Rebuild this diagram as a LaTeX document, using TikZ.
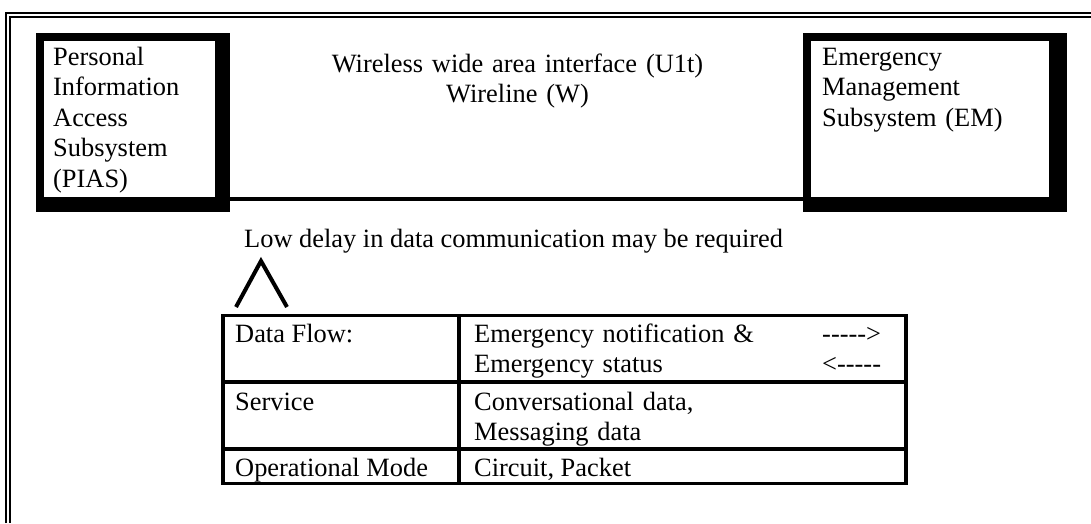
\documentclass[tikz,border=0pt]{standalone}
\usepackage{fontspec}
\setmainfont{Liberation Serif}
\begin{document}
\begin{tikzpicture}[x=1pt,y=-1pt,
  font=\fontsize{26.4}{30.5}\selectfont,
  txt/.style={inner sep=0pt, anchor=base west, align=left},
  frameline/.style={line width=2pt},
  rule/.style={line width=3.5pt},
  inner/.style={fill=white, inner sep=0pt, anchor=north west},
]
\useasboundingbox (0,0) rectangle (1091,523);
% outer double frame (cut off at right and bottom)
\draw[frameline] (6,523) -- (6,13) -- (1091,13);
\draw[frameline] (10,523) -- (10,17) -- (1091,17);

% subsystem boxes: thick black frame, white inside
\fill (36,33) rectangle (230,212);
\node[inner, minimum width=171pt, minimum height=156pt] (pias) at (44,41) {};
\fill (803,33) rectangle (1067,212);
\node[inner, minimum width=238pt, minimum height=156pt] (em) at (811,41) {};

\node[txt, text width=160pt] (piast) at (53,65) {Personal\\Information\\Access\\Subsystem\\(PIAS)};
\node[txt, text width=230pt] (emt) at (822,65) {Emergency\\Management\\Subsystem (EM)};

% interface line
\draw[rule] (pias.east |- 0,199) -- (em.west |- 0,199);

\node[inner sep=0pt, anchor=base, align=center, text width=420pt] (iface) at (517.5,72)
  {Wireless wide area interface (U1t)\\Wireline (W)};

\node[txt] (delay) at (244,247) {Low delay in data communication may be required};

% caret
\draw[line width=4pt] (236,307) -- (261,261) -- (287,307);

% table
\draw[rule] (223,315.5) rectangle (906,483.5);
\draw[rule] (223,382) -- (906,382);
\draw[rule] (223,449) -- (906,449);
\draw[rule] (459,315.5) -- (459,483.5);

\node[txt] (c11) at (235,342) {Data Flow:};
\node[txt, text width=330pt] (c12) at (474,342) {Emergency notification \&\\Emergency status};
\node[txt, text width=80pt] (c13) at (822,342) {-{}-{}-{}-{}->\\<-{}-{}-{}-{}-};
\node[txt] (c21) at (235,410) {Service};
\node[txt, text width=330pt] (c22) at (474,410) {Conversational data,\\Messaging data};
\node[txt] (c31) at (235,476) {Operational Mode};
\node[txt] (c32) at (474,476) {Circuit, Packet};
\end{tikzpicture}
\end{document}
